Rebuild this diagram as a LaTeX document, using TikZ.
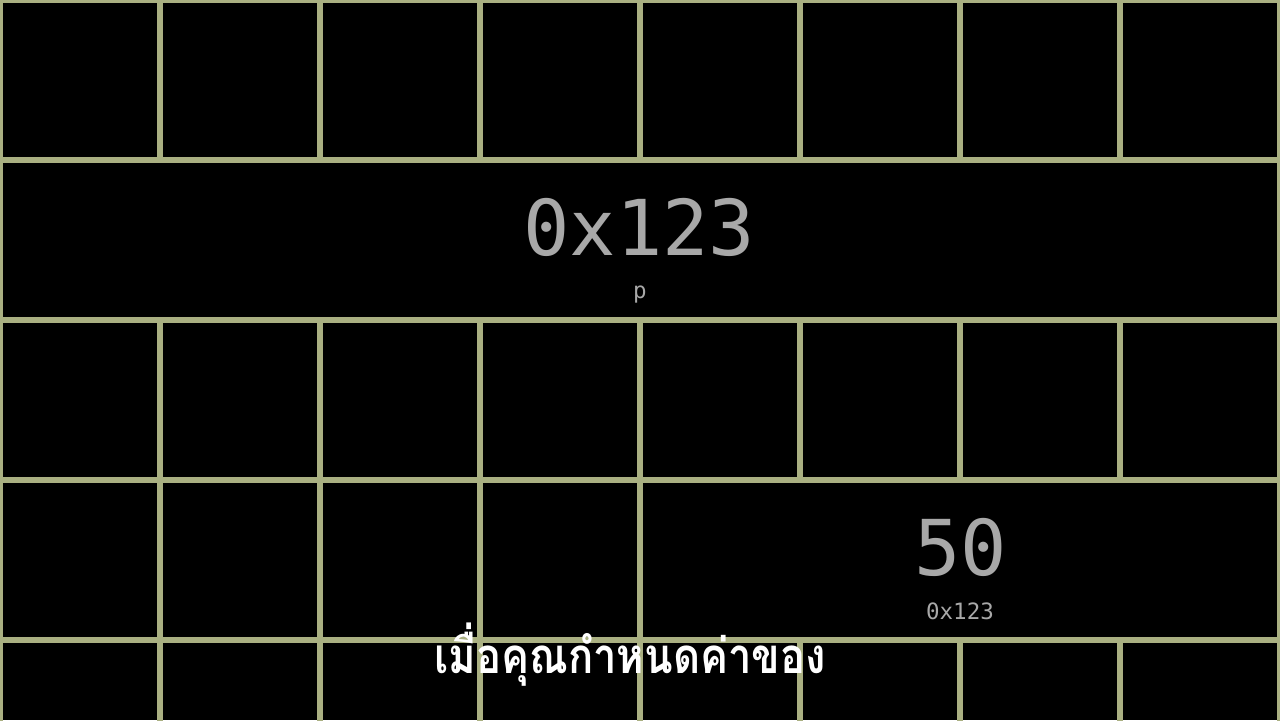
\documentclass[tikz,border=0pt]{standalone}
\usepackage{fontspec}
\newfontfamily\codefont{DejaVu Sans Mono}
\newfontfamily\thaifont[Script=Thai]{Loma}
\definecolor{gridgreen}{RGB}{170,176,130}
\definecolor{valgray}{RGB}{168,168,168}

\begin{document}
\begin{tikzpicture}[
    % Styles for the memory grid
    gridline/.style={draw=gridgreen, line width=1.8pt},
    bigval/.style={text=valgray, font=\codefont\fontsize{27.4}{30}\selectfont, inner sep=0pt, anchor=base},
    smalltag/.style={text=valgray, font=\codefont\fontsize{8}{10}\selectfont, inner sep=0pt, anchor=base},
    subtitle/.style={text=white, font=\thaifont\bfseries\fontsize{17.5}{20}\selectfont, inner sep=0pt, anchor=base, xscale=0.85, transform shape}
]

    % --- Settings ---
    \def\cellsize{2}
    \def\numcols{8}
    \def\pagewidth{16}
    \def\pageheight{9}

    % --- Background ---
    \fill[black] (0,0) rectangle (\pagewidth,\pageheight);
    \useasboundingbox (0,0) rectangle (\pagewidth,\pageheight);
    \clip (0,0) rectangle (\pagewidth,\pageheight);

    % --- Horizontal lines ---
    \foreach \r in {0,...,4} {
        \draw[gridline] (0,{\pageheight-\r*\cellsize}) -- (\pagewidth,{\pageheight-\r*\cellsize});
    }

    % --- Vertical lines: full rows ---
    \foreach \r in {0,2,4} {
        \foreach \c in {0,...,\numcols} {
            \draw[gridline] ({\c*\cellsize},{\pageheight-\r*\cellsize}) -- ++(0,-\cellsize);
        }
    }
    % row 1 is a single wide cell
    \foreach \c in {0,\numcols} {
        \draw[gridline] ({\c*\cellsize},{\pageheight-\cellsize}) -- ++(0,-\cellsize);
    }
    % row 3 is merged from column 4 on
    \foreach \c in {0,1,2,3,4,\numcols} {
        \draw[gridline] ({\c*\cellsize},{\pageheight-3*\cellsize}) -- ++(0,-\cellsize);
    }

    % --- Values ---
    \node[bigval] (pval) at (7.99,5.8125) {0x123};
    \node[smalltag] (pname) at (8,5.275) {p};
    \node[bigval] (xval) at (12.01,1.8125) {50};
    \node[smalltag] (xaddr) at (12,1.2625) {0x123};

    % --- Subtitle ---
    \node[subtitle] (sub) at (7.875,0.58) {เมื่อคุณกำหนดค่าของ};

\end{tikzpicture}
\end{document}
